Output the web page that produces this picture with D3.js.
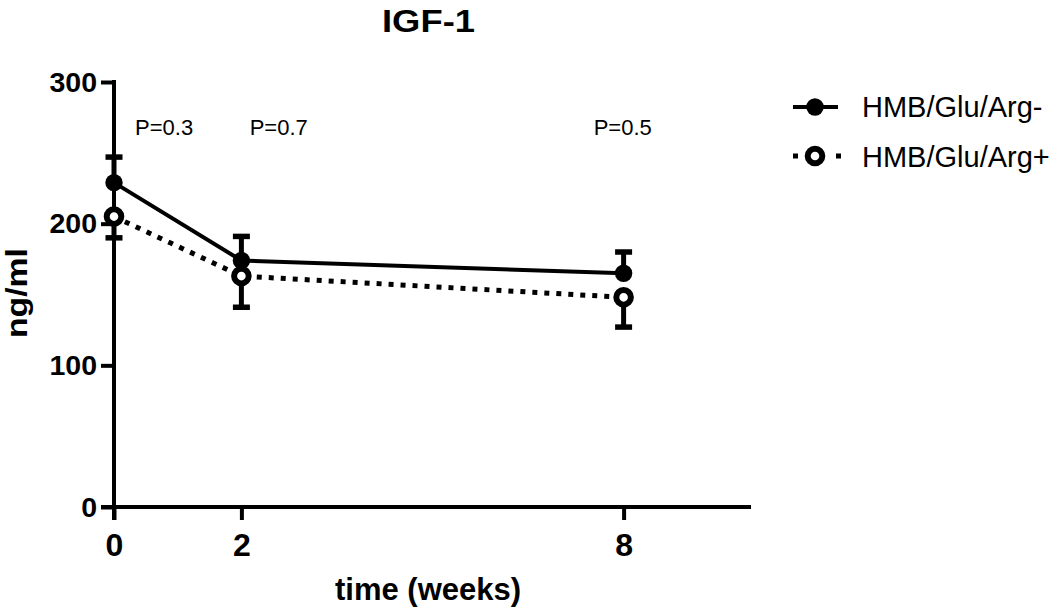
<!DOCTYPE html>
<html><head><meta charset="utf-8">
<script src="https://cdn.jsdelivr.net/npm/d3@7"></script>
<style>body{margin:0;background:#fff}svg{display:block}text{font-family:"Liberation Sans",Arial,sans-serif}</style>
</head><body>
<svg id="c" width="1050" height="610"></svg>
<script>
const weeks = [0, 2, 8];
const xTicks = [0, 2, 8];
const yTicks = [0, 100, 200, 300];
const seriesNames = ["HMB/Glu/Arg-", "HMB/Glu/Arg+"];
const meanMinus = [229, 174, 165];
const errTopMinus = [247, 191, 180];
const meanPlus = [205, 163, 148];
const errBottomPlus = [190, 141, 127];
const pLabels = ["P=0.3", "P=0.7", "P=0.5"];
const pLabelWeeks = [0.33, 2.13, 7.53];
const pValueLevel = 262.5;

const svg = d3.select("#c");
const x = d3.scaleLinear().domain([0, 10]).range([114, 751]);
const y = d3.scaleLinear().domain([0, 300]).range([507, 82]);
const FF = "Liberation Sans, Arial, sans-serif";

// title
svg.append("text").attr("x", 428.5).attr("y", 32).attr("text-anchor", "middle")
  .attr("font-size", 31).attr("font-weight", "bold")
  .attr("textLength", 93).attr("lengthAdjust", "spacingAndGlyphs").text("IGF-1");

// y axis
const ya = svg.append("g").attr("transform", `translate(${x(0)},0)`)
  .call(d3.axisLeft(y).tickValues(yTicks).tickSize(13).tickPadding(4));
ya.select(".domain").remove();
ya.append("line").attr("x1", 0).attr("x2", 0).attr("y1", y(300) - 2).attr("y2", y(0) + 13)
  .attr("stroke", "#000").attr("stroke-width", 4);
ya.selectAll(".tick line").attr("stroke", "#000").attr("stroke-width", 4);
ya.selectAll(".tick text").attr("font-size", 28.5).attr("font-weight", "bold")
  .attr("fill", "#000").attr("font-family", FF);

// x axis
const xa = svg.append("g").attr("transform", `translate(0,${y(0)})`)
  .call(d3.axisBottom(x).tickValues(xTicks).tickSize(13).tickPadding(13));
xa.select(".domain").remove();
xa.append("line").attr("x1", x(0) - 13).attr("x2", x(10)).attr("y1", 0).attr("y2", 0)
  .attr("stroke", "#000").attr("stroke-width", 4);
xa.selectAll(".tick line").attr("stroke", "#000").attr("stroke-width", 4);
xa.selectAll(".tick text").attr("font-size", 32).attr("font-weight", "bold")
  .attr("fill", "#000").attr("font-family", FF);

// axis titles
svg.append("text").attr("x", 428).attr("y", 600).attr("text-anchor", "middle")
  .attr("font-size", 31).attr("font-weight", "bold").text("time (weeks)");
svg.append("text").attr("transform", "translate(27,293) rotate(-90)").attr("text-anchor", "middle")
  .attr("font-size", 29).attr("font-weight", "bold")
  .attr("textLength", 90).attr("lengthAdjust", "spacingAndGlyphs").text("ng/ml");

// lines
const lineGen = d3.line().x((d, i) => x(weeks[i])).y(d => y(d));
svg.append("path").datum(meanPlus).attr("d", lineGen).attr("fill", "none")
  .attr("stroke", "#000").attr("stroke-width", 5).attr("stroke-dasharray", "5,7");
svg.append("path").datum(meanMinus).attr("d", lineGen).attr("fill", "none")
  .attr("stroke", "#000").attr("stroke-width", 4);

// error bars
function errBars(means, ends) {
  const g = svg.append("g");
  means.forEach((m, i) => {
    const cx = x(weeks[i]);
    g.append("line").attr("x1", cx).attr("x2", cx).attr("y1", y(m)).attr("y2", y(ends[i]))
      .attr("stroke", "#000").attr("stroke-width", 5);
    g.append("line").attr("x1", cx - 8.5).attr("x2", cx + 8.5).attr("y1", y(ends[i])).attr("y2", y(ends[i]))
      .attr("stroke", "#000").attr("stroke-width", 5.5);
  });
}
errBars(meanMinus, errTopMinus);
errBars(meanPlus, errBottomPlus);

// markers
svg.append("g").selectAll("circle").data(meanMinus).join("circle")
  .attr("cx", (d, i) => x(weeks[i])).attr("cy", d => y(d)).attr("r", 8.7).attr("fill", "#000");
svg.append("g").selectAll("circle").data(meanPlus).join("circle")
  .attr("cx", (d, i) => x(weeks[i])).attr("cy", d => y(d)).attr("r", 7.3)
  .attr("fill", "#fff").attr("stroke", "#000").attr("stroke-width", 6);

// p labels
svg.append("g").selectAll("text").data(pLabels).join("text")
  .attr("x", (d, i) => x(pLabelWeeks[i])).attr("y", y(pValueLevel))
  .attr("font-size", 22).text(d => d);

// legend
const lg = svg.append("g");
lg.append("line").attr("x1", 793).attr("x2", 838).attr("y1", 107).attr("y2", 107)
  .attr("stroke", "#000").attr("stroke-width", 4);
lg.append("circle").attr("cx", 815).attr("cy", 107).attr("r", 8.7).attr("fill", "#000");
lg.append("line").attr("x1", 793).attr("x2", 841).attr("y1", 156).attr("y2", 156)
  .attr("stroke", "#000").attr("stroke-width", 5).attr("stroke-dasharray", "5,38");
lg.append("circle").attr("cx", 815).attr("cy", 156).attr("r", 7.3)
  .attr("fill", "#fff").attr("stroke", "#000").attr("stroke-width", 6);
lg.selectAll("text.l").data(seriesNames).join("text").attr("class", "l")
  .attr("x", 862).attr("y", (d, i) => 117 + i * 50).attr("font-size", 29).text(d => d);
</script>
</body></html>
